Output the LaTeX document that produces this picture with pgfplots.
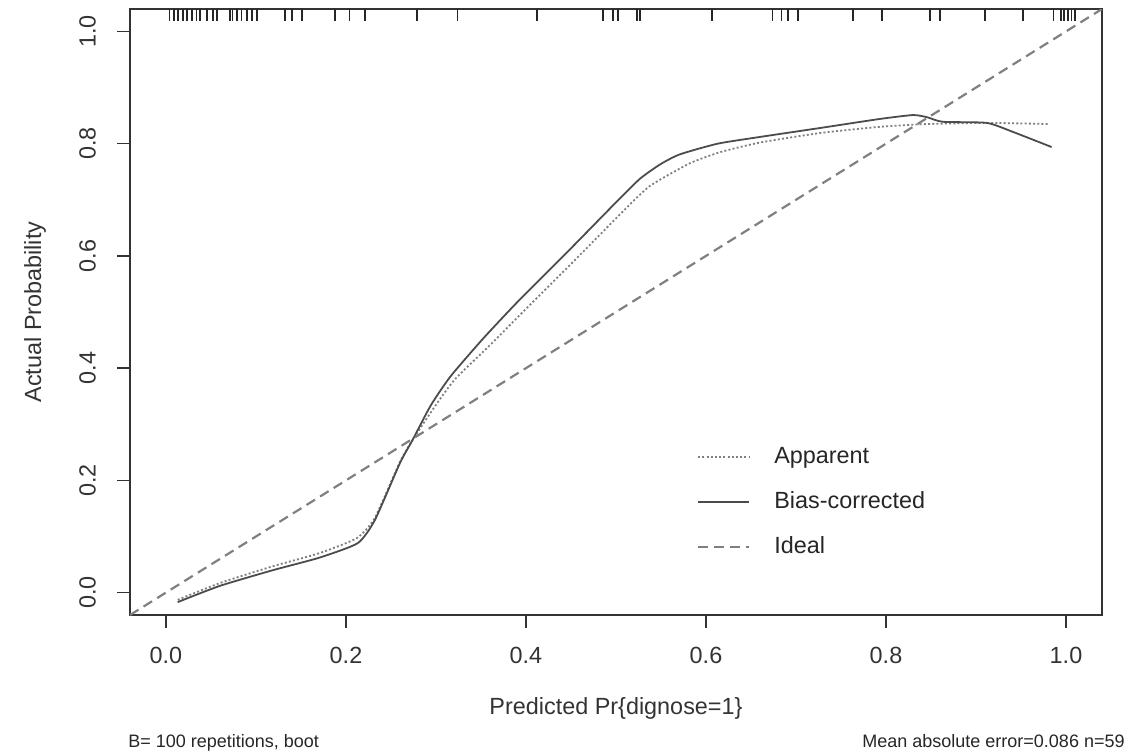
\documentclass[border=0pt]{standalone}
\usepackage{pgfplots}
\pgfplotsset{compat=1.18}
\usepackage{fontspec}
\setmainfont{Liberation Sans}
\begin{document}
\begin{tikzpicture}[x=1pt,y=1pt]
\useasboundingbox (-65,-68.5) rectangle (509,307.5);
\begin{axis}[
  at={(0,0)}, anchor=south west,
  scale only axis, width=486pt, height=303pt,
  xmin=-0.04, xmax=1.04, ymin=-0.04, ymax=1.04,
  xtick={0,0.2,0.4,0.6,0.8,1.0},
  ytick={0,0.2,0.4,0.6,0.8,1.0},
  xticklabels={0.0,0.2,0.4,0.6,0.8,1.0},
  yticklabels={0.0,0.2,0.4,0.6,0.8,1.0},
  tick align=outside, xtick pos=bottom, ytick pos=left,
  major tick length=6.5pt,
  axis line style={black!80, line width=0.8pt},
  tick style={black!80, line width=0.8pt},
  ticklabel style={font=\fontsize{11.7}{14}\selectfont, text=black!80},
  xticklabel style={anchor=north, yshift=-6pt},
  yticklabel style={rotate=90, anchor=south, yshift=7pt},
  xlabel={Predicted Pr\{dignose=1\}},
  ylabel={Actual Probability},
  label style={font=\fontsize{11.7}{14}\selectfont, text=black!80},
  xlabel style={at={(axis description cs:0.5,0)}, anchor=center, yshift=-46.5pt},
  ylabel style={at={(axis description cs:0,0.5)}, anchor=center, yshift=47.5pt},
  legend style={draw=none, fill=none, inner sep=0pt,
    font=\fontsize{11.7}{14}\selectfont, text=black!85,
    at={(axis description cs:0.583,0.279)}, anchor=north west,
    nodes={text height=8.5pt, text depth=2.5pt, inner sep=0pt},
    row sep=11.5pt, column sep=12pt},
  legend cell align=left,
  legend image code/.code={\draw[#1] (0pt,0pt) -- (25.5pt,0pt);},
]
% Apparent
\addplot[black!50, line width=0.9pt, dash pattern=on 1pt off 1.1pt, smooth, tension=0.35] coordinates {
(0.013,-0.013)(0.06,0.017)(0.119,0.047)(0.17,0.070)(0.212,0.097)(0.232,0.133)
(0.26,0.233)(0.274,0.272)(0.298,0.330)(0.321,0.380)(0.36,0.441)(0.399,0.504)
(0.454,0.592)(0.51,0.683)(0.538,0.725)(0.582,0.765)(0.616,0.785)(0.66,0.802)
(0.727,0.819)(0.793,0.830)(0.846,0.835)(0.912,0.837)(0.982,0.835)};
\addlegendentry{Apparent}
% Bias-corrected
\addplot[black!70, line width=0.9pt, smooth, tension=0.35] coordinates {
(0.013,-0.017)(0.06,0.012)(0.119,0.040)(0.17,0.062)(0.213,0.088)(0.232,0.129)
(0.26,0.231)(0.274,0.272)(0.294,0.333)(0.316,0.385)(0.352,0.452)(0.39,0.517)
(0.446,0.607)(0.501,0.697)(0.527,0.738)(0.55,0.764)(0.571,0.781)(0.613,0.800)
(0.66,0.812)(0.727,0.828)(0.793,0.844)(0.83,0.851)(0.846,0.847)(0.863,0.839)
(0.912,0.837)(0.941,0.821)(0.984,0.794)};
\addlegendentry{Bias-corrected}
% Ideal
\addplot[black!50, line width=1.1pt, dash pattern=on 5pt off 3pt] coordinates {
(-0.04,-0.04)(1.04,1.04)};
\addlegendentry{Ideal}
% rug
\addplot[forget plot, only marks, mark=|, mark size=3pt,
  mark options={black!85, line width=0.9pt}] coordinates {
(0.004,1.029)(0.009,1.029)(0.013,1.029)(0.019,1.029)(0.023,1.029)(0.029,1.029)
(0.034,1.029)(0.038,1.029)(0.046,1.029)(0.052,1.029)(0.057,1.029)(0.071,1.029)
(0.074,1.029)(0.079,1.029)(0.084,1.029)(0.090,1.029)(0.096,1.029)(0.101,1.029)
(0.132,1.029)(0.140,1.029)(0.151,1.029)(0.188,1.029)(0.204,1.029)(0.221,1.029)
(0.279,1.029)(0.324,1.029)(0.412,1.029)(0.486,1.029)(0.497,1.029)(0.502,1.029)
(0.523,1.029)(0.527,1.029)(0.607,1.029)(0.674,1.029)(0.684,1.029)(0.691,1.029)
(0.702,1.029)(0.763,1.029)(0.796,1.029)(0.849,1.029)(0.860,1.029)(0.910,1.029)
(0.952,1.029)(0.986,1.029)(0.994,1.029)(0.998,1.029)(1.002,1.029)(1.006,1.029)
(1.010,1.029)};
\end{axis}
\node[anchor=base west, inner sep=0pt, font=\fontsize{9}{11}\selectfont, text=black!85] at (-1,-66) {B= 100 repetitions, boot};
\node[anchor=base east, inner sep=0pt, font=\fontsize{9}{11}\selectfont, text=black!85] at (497.5,-66) {Mean absolute error=0.086 n=59};
\end{tikzpicture}
\end{document}
